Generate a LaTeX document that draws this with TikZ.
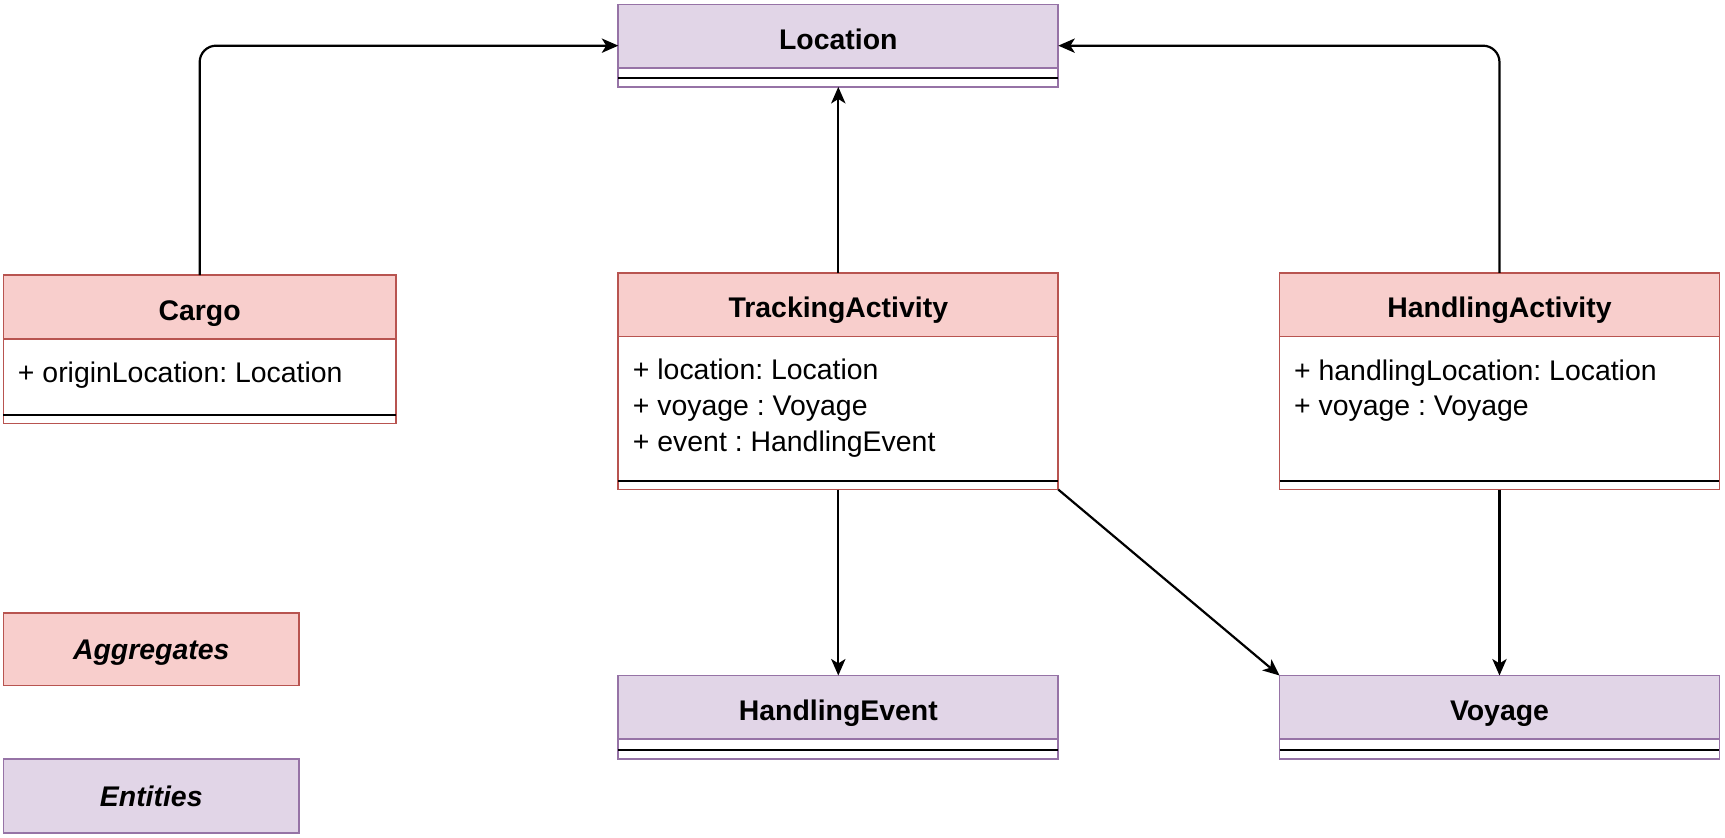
\documentclass[tikz,border=0pt]{standalone}
\usepackage{fontspec}
\setmainfont{Liberation Sans}
\usetikzlibrary{arrows.meta,positioning}
\definecolor{aggfill}{HTML}{F8CECC}
\definecolor{aggline}{HTML}{B85450}
\definecolor{entfill}{HTML}{E1D5E7}
\definecolor{entline}{HTML}{9673A6}
\newcommand{\diagFont}[0]{\fontsize{14.7}{18.8}\selectfont}
\frenchspacing

\tikzset{
  classbox/.style={draw, fill=white, line width=0.03cm, inner sep=0pt,
    outer sep=0pt, minimum width=8cm},
  aggregate/.style={classbox, draw=aggline},
  entity/.style={classbox, draw=entline},
  aggheader/.style={aggregate, fill=aggfill, minimum height=1.16cm,
    anchor=north, text height=0.48cm, text depth=0cm, font=\diagFont\bfseries},
  entheader/.style={entity, fill=entfill, minimum height=1.16cm,
    anchor=north, text height=0.48cm, text depth=0cm, font=\diagFont\bfseries},
  attr/.style={anchor=base west, inner sep=0pt, font=\diagFont},
  sepline/.style={line width=0.04cm, black},
  assoc/.style={-{Stealth[length=0.3cm, width=0.26cm, inset=0.08cm]},
    line width=0.04cm, rounded corners=0.3cm},
  legendbox/.style={classbox, minimum width=5.38cm, text height=0.38cm,
    text depth=0cm, font=\diagFont\bfseries\itshape}
}

\begin{document}
\begin{tikzpicture}[x=0.02cm, y=-0.02cm]
  \useasboundingbox (0,0) rectangle (1568,761);

  % entities
  \node[entity, minimum height=1.5cm] (loc) at (762,41.5) {};
  \node[entheader] (lochead) at (loc.north) {Location};
  \draw[sepline] ([yshift=0.16cm]loc.south west) -- ([yshift=0.16cm]loc.south east);

  \node[entity, minimum height=1.52cm] (hev) at (762,652) {};
  \node[entheader] (hevhead) at (hev.north) {HandlingEvent};
  \draw[sepline] ([yshift=0.16cm]hev.south west) -- ([yshift=0.16cm]hev.south east);

  \node[entity, minimum height=1.52cm] (voy) at (1363,652) {};
  \node[entheader] (voyhead) at (voy.north) {Voyage};
  \draw[sepline] ([yshift=0.16cm]voy.south west) -- ([yshift=0.16cm]voy.south east);

  % aggregates
  \node[aggregate, minimum width=7.14cm, minimum height=2.7cm] (cargo) at (181.5,317.5) {};
  \node[aggheader, minimum width=7.14cm] (cargohead) at (cargo.north) {Cargo};
  \node[attr] (cargoloc) at (16,348) {+ originLocation: Location};
  \draw[sepline] ([yshift=0.16cm]cargo.south west) -- ([yshift=0.16cm]cargo.south east);

  \node[aggregate, minimum height=3.94cm] (track) at (762,346.5) {};
  \node[aggheader] (trackhead) at (track.north) {TrackingActivity};
  \node[attr] (trackloc) at (575,345) {+ location: Location};
  \node[attr] (trackvoy) at (575,378) {+ voyage : Voyage};
  \node[attr] (trackev) at (575,410) {+ event : HandlingEvent};
  \draw[sepline] ([yshift=0.16cm]track.south west) -- ([yshift=0.16cm]track.south east);

  \node[aggregate, minimum height=3.94cm] (hact) at (1363,346.5) {};
  \node[aggheader] (hacthead) at (hact.north) {HandlingActivity};
  \node[attr] (hactloc) at (1176,346) {+ handlingLocation: Location};
  \node[attr] (hactvoy) at (1176,378) {+ voyage : Voyage};
  \draw[sepline] ([yshift=0.16cm]hact.south west) -- ([yshift=0.16cm]hact.south east);

  % legend
  \node[legendbox, draw=aggline, fill=aggfill, minimum height=1.32cm] (aggkey) at (137.5,590) {Aggregates};
  \node[legendbox, draw=entline, fill=entfill, minimum height=1.34cm] (entkey) at (137.5,723.5) {Entities};

  % associations
  \draw[assoc] (cargo.north) |- (loc.west);
  \draw[assoc] (hact.north) |- (loc.east);
  \draw[assoc] (track.north) -- (loc.south);
  \draw[assoc] (track.south) -- (hev.north);
  \draw[assoc] (track.south east) -- (voy.north west);
  \draw[assoc] (hact.south) -- (voy.north);
\end{tikzpicture}
\end{document}
